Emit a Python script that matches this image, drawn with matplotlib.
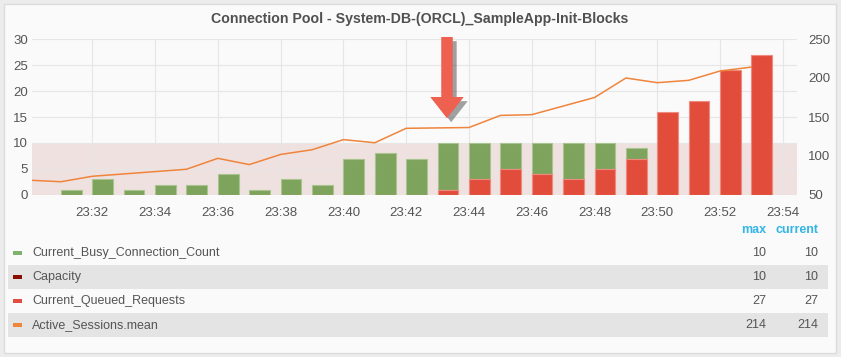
import matplotlib
matplotlib.use("Agg")
import matplotlib.pyplot as plt
import matplotlib.patches as mpatches
import matplotlib.patheffects as pe

plt.rcParams['font.family'] = ['Liberation Sans', 'DejaVu Sans']

# minutes past 23:00
bar_minutes = [31, 32, 33, 34, 35, 36, 37, 38, 39, 40, 41, 42, 43, 44, 45, 46, 47, 48, 49, 50, 51, 52, 53]
busy = [1, 3, 1, 2, 2, 4, 1, 3, 2, 7, 8, 7, 10, 10, 10, 10, 10, 10, 9, 10, 10, 10, 10]
queued = [0, 0, 0, 0, 0, 0, 0, 0, 0, 0, 0, 0, 1, 3, 5, 4, 3, 5, 7, 16, 18, 24, 27]
capacity = 10

line_minutes = list(range(30, 54))
sessions = [69, 67, 74, 77, 80, 83, 97, 89, 102, 108, 121, 117, 135.5, 136, 136.5,
            152, 153, 164, 175, 200, 194, 197, 209, 214]

tick_minutes = [32, 34, 36, 38, 40, 42, 44, 46, 48, 50, 52, 54]
tick_labels = ['23:%02d' % m for m in tick_minutes]

legend_names = ['Current_Busy_Connection_Count', 'Capacity', 'Current_Queued_Requests', 'Active_Sessions.mean']
legend_colors = ['#7eb26d', '#890f02', '#e24d42', '#ef843c']
legend_max = ['10', '10', '27', '214']
legend_current = ['10', '10', '27', '214']

W, H = 841, 357
fig = plt.figure(figsize=(W / 100, H / 100), dpi=100)
fig.patch.set_facecolor('#ececec')

def fx(px):
    return px / W

def fy(py):
    return 1 - py / H

# panel
fig.patches.append(mpatches.Rectangle((fx(4), fy(353)), fx(832), 349 / H, transform=fig.transFigure,
                                      facecolor='#fafafa', edgecolor='#dcdcdc', lw=1, zorder=-5))

ax = fig.add_axes([fx(32), fy(195), fx(797 - 32), (195 - 39) / H])
ax.set_facecolor('none')
ax.set_xlim(30.08, 54.45)
ax.set_ylim(0, 30)

ax.axhspan(0, capacity, color='#efe1df', zorder=0, lw=0)

ax.bar(bar_minutes, busy, width=0.66, align='edge', color='#7ea35c',
       edgecolor='#a9c58f', linewidth=0.8, zorder=2)
ax.bar(bar_minutes, queued, width=0.66, align='edge', color='#e24d3b',
       edgecolor='#ef8a80', linewidth=0.8, zorder=3)

ax.set_yticks([0, 5, 10, 15, 20, 25, 30])
ax.set_xticks(tick_minutes)
ax.set_xticklabels(tick_labels)
ax.grid(True, color='#e6e6e6', lw=0.8, zorder=1)
ax.set_axisbelow(True)
for s in ax.spines.values():
    s.set_visible(False)
ax.tick_params(length=0, labelsize=9.5, colors='#555555', pad=3)
ax.tick_params(axis='x', pad=9)

ax2 = ax.twinx()
ax2.set_ylim(50, 250)
ax2.set_yticks([50, 100, 150, 200, 250])
ax2.plot(line_minutes, sessions, color='#ef843c', lw=1.1, zorder=4, clip_on=True)
for s in ax2.spines.values():
    s.set_visible(False)
ax2.tick_params(length=0, labelsize=9.5, colors='#555555', pad=8)

fig.text(fx(420), fy(19), 'Connection Pool - System-DB-(ORCL)_SampleApp-Init-Blocks', ha='center', va='center',
         fontsize=10.2, fontweight='bold', color='#505050')

# red arrow annotation
arrow = mpatches.FancyArrow(fx(447), fy(37), 0, fy(118) - fy(37), width=fx(11), head_width=fx(33),
                            head_length=21 / H, length_includes_head=True, transform=fig.transFigure,
                            facecolor='#ee6050', edgecolor='none', zorder=10,
                            path_effects=[pe.withSimplePatchShadow(offset=(3, -3), shadow_rgbFace='#333333', alpha=0.45),
                                          pe.Normal()])
fig.patches.append(arrow)

# legend table
fig.text(fx(766), fy(230), 'max', ha='right', va='center', fontsize=9, fontweight='bold', color='#33b5e5')
fig.text(fx(818), fy(230), 'current', ha='right', va='center', fontsize=9, fontweight='bold', color='#33b5e5')
row_y = [253, 277, 301, 325]
for i, name in enumerate(legend_names):
    yc = row_y[i]
    if i % 2 == 1:
        fig.patches.append(mpatches.Rectangle((fx(8), fy(yc + 12)), fx(820), 24 / H, transform=fig.transFigure,
                                              facecolor='#e4e4e4', edgecolor='none', zorder=1))
    fig.patches.append(mpatches.Rectangle((fx(13), fy(yc + 1.5)), fx(9), 3.5 / H, transform=fig.transFigure,
                                          facecolor=legend_colors[i], edgecolor='none', zorder=2))
    fig.text(fx(32), fy(yc), name, ha='left', va='center', fontsize=9, color='#555555')
    fig.text(fx(766), fy(yc), legend_max[i], ha='right', va='center', fontsize=9, color='#555555')
    fig.text(fx(818), fy(yc), legend_current[i], ha='right', va='center', fontsize=9, color='#555555')

fig.savefig('out.png', dpi=100, facecolor=fig.get_facecolor())
